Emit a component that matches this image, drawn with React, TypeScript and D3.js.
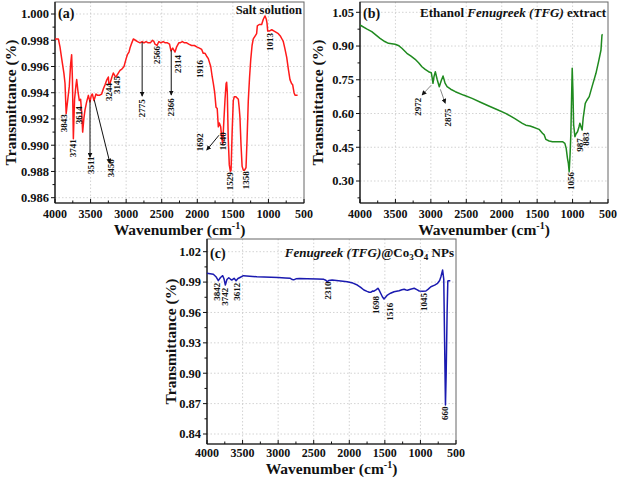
import React from "react";
import * as d3 from "d3";

// ---------- Data: panel (a) Salt solution ----------
const waveA = [4000,3953,3930,3906,3875,3859,3843,3820,3799,3780,3766,3755,3742,3725,3705,3695,3675,3658,3640,3625,3611,3595,3578,3555,3531,3508,3490,3475,3452,3424,3400,3377,3344,3320,3297,3270,3250,3244,3227,3200,3180,3160,3143,3110,3086,3060,3030,3000,2983,2960,2946,2920,2899,2870,2840,2805,2775,2750,2720,2690,2660,2630,2610,2594,2566,2540,2510,2480,2450,2420,2390,2370,2345,2313,2290,2260,2243,2210,2180,2149,2120,2080,2040,2008,1970,1938,1916,1891,1870,1845,1811,1790,1774,1755,1737,1720,1704,1690,1671,1655,1643,1625,1610,1595,1587,1578,1565,1550,1535,1525,1510,1494,1480,1460,1440,1423,1410,1400,1385,1370,1353,1335,1315,1300,1283,1265,1249,1230,1213,1190,1166,1156,1130,1095,1072,1048,1030,1020,1010,990,953,920,890,861,830,800,791,770,743,720,697,675,659,640,626,600,590];
const transA = [0.9981,0.9981,0.9975,0.9966,0.9955,0.9947,0.9924,0.9935,0.9945,0.9962,0.9969,0.995,0.9905,0.9935,0.9946,0.995,0.994,0.9934,0.9935,0.9925,0.991,0.992,0.9927,0.9933,0.9938,0.9933,0.9938,0.9939,0.9934,0.9939,0.9938,0.9938,0.9939,0.9943,0.9946,0.995,0.9952,0.9947,0.9947,0.9952,0.9955,0.9953,0.9952,0.9955,0.9957,0.9958,0.996,0.9966,0.9969,0.9971,0.9974,0.9978,0.9981,0.998,0.9979,0.9978,0.9979,0.9978,0.9979,0.9978,0.9978,0.998,0.9979,0.9977,0.9976,0.9979,0.9978,0.9979,0.9978,0.9978,0.9977,0.9972,0.9974,0.9971,0.9975,0.9978,0.9978,0.9979,0.9978,0.9978,0.9977,0.9976,0.9976,0.9975,0.9974,0.9973,0.997,0.997,0.9968,0.9966,0.996,0.9952,0.9947,0.994,0.9929,0.9928,0.9914,0.9917,0.9914,0.9905,0.9901,0.992,0.9935,0.9947,0.9948,0.994,0.9905,0.9885,0.988,0.9881,0.991,0.9934,0.9937,0.9937,0.9936,0.9935,0.9928,0.9921,0.99,0.9884,0.9881,0.9881,0.9883,0.9905,0.9934,0.9952,0.9965,0.9976,0.9981,0.9983,0.9985,0.9991,0.9992,0.9992,0.9996,0.99985,0.9996,0.9993,0.9987,0.9987,0.9988,0.9987,0.9986,0.9985,0.9983,0.998,0.9979,0.9974,0.9967,0.9958,0.995,0.9947,0.9946,0.994,0.9938,0.9938,0.9938];
const yTicksA = [0.986,0.988,0.99,0.992,0.994,0.996,0.998,1.0];
const labelsA = ["3843","3741","3614","3511","3456","3244","3145","2775","2566","2366","2314","1916","1692","1640","1529","1358","1013"];
const labelWaveA = [3873,3754,3663,3494,3213,3241,3128,2777,2566,2369,2271,1962,1962,1638,1540,1315,978];
const labelValA = [0.99168,0.98977,0.99229,0.98847,0.98824,0.99405,0.99458,0.99282,0.99687,0.9929,0.99618,0.9958,0.99023,0.99031,0.98725,0.98733,0.99786];
const arrowFromWaveA = [3508,3448,2775,2366,1695];
const arrowFromValA = [0.99344,0.99344,0.99786,0.99725,0.99076];
const arrowToWaveA = [3508,3227,2775,2366,1868];
const arrowToValA = [0.98908,0.98863,0.99374,0.99382,0.98962];

// ---------- Data: panel (b) Ethanol Fenugreek extract ----------
const waveB = [4000,3900,3834,3717,3650,3599,3504,3450,3409,3338,3280,3221,3170,3126,3080,3032,2994,2982,2970,2955,2937,2910,2881,2855,2828,2800,2771,2720,2654,2540,2418,2300,2182,2060,1945,1820,1709,1660,1600,1560,1473,1425,1400,1378,1330,1284,1200,1142,1109,1090,1072,1060,1048,1035,1024,1012,1005,995,985,967,950,930,910,897,880,865,850,821,800,765,720,670,630,599,585,575];
const transB = [0.9935,0.975,0.9637,0.9344,0.92,0.912,0.9077,0.901,0.89,0.8677,0.855,0.841,0.825,0.8081,0.796,0.7859,0.7814,0.76,0.7343,0.765,0.7859,0.75,0.7192,0.745,0.7668,0.735,0.7192,0.708,0.697,0.682,0.6674,0.65,0.6333,0.617,0.6009,0.578,0.5565,0.548,0.5445,0.54,0.5297,0.512,0.505,0.4853,0.478,0.4747,0.475,0.4747,0.4675,0.445,0.4008,0.38,0.3415,0.42,0.512,0.7,0.801,0.7,0.55,0.497,0.51,0.519,0.54,0.5565,0.54,0.5266,0.58,0.6454,0.658,0.6751,0.725,0.7788,0.835,0.8823,0.949,0.952];
const yTicksB = [0.3,0.45,0.6,0.75,0.9,1.05];
const labelsB = ["2972","2875","1056","987","883"];
const labelWaveB = [3178,2760,1031,893,818];
const labelValB = [0.6303,0.5822,0.2996,0.46,0.4866];
const arrowFromWaveB = [2994,2866];
const arrowFromValB = [0.7262,0.7076];
const arrowToWaveB = [3126,2796];
const arrowToValB = [0.6817,0.6454];

// ---------- Data: panel (c) Fenugreek (TFG)@Co3O4 NPs ----------
const waveC = [4000,3911,3870,3841,3810,3779,3760,3742,3720,3694,3672,3652,3619,3591,3565,3543,3488,3400,3299,3200,3100,3000,2900,2829,2800,2782,2750,2700,2593,2450,2358,2330,2311,2290,2241,2150,2029,1950,1887,1840,1794,1750,1720,1700,1670,1653,1620,1597,1580,1559,1535,1512,1490,1464,1420,1371,1300,1260,1229,1200,1182,1140,1088,1050,1017,970,923,890,853,800,759,730,712,688,672,660,648,638,625,615,600,580];
const transC = [0.9987,0.9977,0.995,0.9914,0.9945,0.9963,0.993,0.9871,0.9925,0.9943,0.993,0.992,0.9937,0.9914,0.9935,0.9943,0.9963,0.9958,0.9953,0.995,0.9947,0.9945,0.994,0.9937,0.9925,0.9922,0.9932,0.9935,0.9933,0.993,0.9927,0.9918,0.9904,0.9915,0.992,0.9914,0.9904,0.989,0.9871,0.9848,0.9822,0.9808,0.98,0.9799,0.9812,0.981,0.9825,0.9839,0.982,0.979,0.9755,0.9733,0.975,0.9772,0.979,0.9805,0.9815,0.9825,0.9829,0.9822,0.9819,0.983,0.9839,0.9825,0.9812,0.981,0.9812,0.983,0.9854,0.987,0.9888,0.9915,0.9953,1.0019,0.993,0.93,0.8686,0.9,0.96,0.9911,0.9914,0.9914];
const yTicksC = [0.84,0.87,0.9,0.93,0.96,0.99,1.02];
const labelsC = ["3842","3742","3612","2310","1698","1516","1045","660"];
const labelWaveC = [3863,3746,3581,2307,1622,1434,952,653];
const labelValC = [0.9805,0.9756,0.9805,0.9817,0.9674,0.9608,0.9703,0.8604];

const xTicks = [4000,3500,3000,2500,2000,1500,1000,500];
const xMinor = [3750,3250,2750,2250,1750,1250,750];

const FONT = "'Liberation Serif','Times New Roman',serif";

type Ann = { text: string; w: number; v: number };
type Arr = { w1: number; v1: number; w2: number; v2: number };

type PanelProps = {
  id: string;
  xr: [number, number];
  yDom: [number, number];
  yRange: [number, number];
  top: number;
  bottom: number;
  wave: number[];
  trans: number[];
  color: string;
  yTicks: number[];
  fmt: string;
  anns: Ann[];
  arrows: Arr[];
  arrowColor: string;
  tag: string;
  tickLabelDy: number;
  xTitleY: number;
  yTitleX: number;
  title: React.ReactNode;
  titleY: number;
  titleSize: number;
  tagY: number;
};

function Panel(p: PanelProps) {
  const x = d3.scaleLinear().domain([4000, 500]).range(p.xr);
  const y = d3.scaleLinear().domain(p.yDom).range(p.yRange);
  const pts: [number, number][] = p.wave.map((w, i) => [w, p.trans[i]]);
  const line = d3
    .line<[number, number]>()
    .x((d) => x(d[0]))
    .y((d) => y(d[1]));
  const left = p.xr[0];
  const right = p.xr[1];
  const step = p.yTicks[1] - p.yTicks[0];
  const yMinor: number[] = [];
  p.yTicks.forEach((t) => {
    const m = t + step / 2;
    if (y(m) > p.top) yMinor.push(m);
  });
  const lo = p.yTicks[0] - step / 2;
  if (y(lo) < p.bottom) yMinor.push(lo);
  const f = d3.format(p.fmt);
  const markerId = "arrow-" + p.id;
  return (
    <g>
      <defs>
        <marker id={markerId} viewBox="0 0 10 10" refX="9" refY="5" markerWidth="5" markerHeight="5" orient="auto-start-reverse">
          <path d="M0,0 L10,5 L0,10 z" fill="#111" />
        </marker>
      </defs>
      {/* grid */}
      {xTicks.slice(1, -1).map((t) => (
        <line key={"gx" + t} x1={x(t)} x2={x(t)} y1={p.top} y2={p.bottom} stroke="#c8c8c8" strokeWidth={0.8} strokeDasharray="1.5,2" />
      ))}
      {p.yTicks.map((t) => (
        <line key={"gy" + t} x1={left} x2={right} y1={y(t)} y2={y(t)} stroke="#c8c8c8" strokeWidth={0.8} strokeDasharray="1.5,2" />
      ))}
      {/* frame */}
      <rect x={left} y={p.top} width={right - left} height={p.bottom - p.top} fill="none" stroke="#666" strokeWidth={1} />
      <line x1={left} x2={left} y1={p.top} y2={p.bottom} stroke="#111" strokeWidth={1.2} />
      <line x1={left} x2={right} y1={p.bottom} y2={p.bottom} stroke="#111" strokeWidth={1.2} />
      {/* x ticks */}
      {xTicks.map((t) => (
        <g key={"xt" + t}>
          <line x1={x(t)} x2={x(t)} y1={p.bottom} y2={p.bottom - 4} stroke="#111" strokeWidth={1} />
          <text x={x(t)} y={p.bottom + p.tickLabelDy} textAnchor="middle" fontFamily={FONT} fontWeight="bold" fontSize={12} fill="#111">
            {t}
          </text>
        </g>
      ))}
      {xMinor.map((t) => (
        <line key={"xm" + t} x1={x(t)} x2={x(t)} y1={p.bottom} y2={p.bottom - 2.5} stroke="#111" strokeWidth={1} />
      ))}
      {/* y ticks */}
      {p.yTicks.map((t) => (
        <g key={"yt" + t}>
          <line x1={left - 4} x2={left} y1={y(t)} y2={y(t)} stroke="#111" strokeWidth={1} />
          <text x={left - 6} y={y(t)} dy="0.35em" textAnchor="end" fontFamily={FONT} fontWeight="bold" fontSize={12.5} fill="#111">
            {f(t)}
          </text>
        </g>
      ))}
      {yMinor.map((t) => (
        <line key={"ym" + t} x1={left - 2.5} x2={left} y1={y(t)} y2={y(t)} stroke="#111" strokeWidth={1} />
      ))}
      {/* curve */}
      <path d={line(pts) || ""} fill="none" stroke={p.color} strokeWidth={1.5} strokeLinejoin="round" />
      {/* arrows */}
      {p.arrows.map((a, i) => (
        <line key={"ar" + i} x1={x(a.w1)} y1={y(a.v1)} x2={x(a.w2)} y2={y(a.v2)} stroke={p.arrowColor} strokeWidth={1} markerEnd={`url(#${markerId})`} />
      ))}
      {/* annotations */}
      {p.anns.map((a, i) => (
        <text key={"an" + i} transform={`translate(${x(a.w)},${y(a.v)}) rotate(-90)`} textAnchor="middle" dy="0.35em" fontFamily={FONT} fontWeight="bold" fontSize={9} fill="#111">
          {a.text}
        </text>
      ))}
      {/* panel tag */}
      <text x={left + 3} y={p.tagY} fontFamily={FONT} fontWeight="bold" fontSize={14} fill="#111">
        {p.tag}
      </text>
      {/* title */}
      <text x={right - 2} y={p.titleY} textAnchor="end" fontFamily={FONT} fontWeight="bold" fontSize={p.titleSize} fill="#111">
        {p.title}
      </text>
      {/* axis titles */}
      <text x={(left + right) / 2} y={p.xTitleY} textAnchor="middle" fontFamily={FONT} fontWeight="bold" fontSize={15.5} fill="#111">
        Wavenumber (cm
        <tspan fontSize={10} dy={-6}>-1</tspan>
        <tspan dy={6}>)</tspan>
      </text>
      <text transform={`translate(${p.yTitleX},${(p.top + p.bottom) / 2}) rotate(-90)`} textAnchor="middle" dy="0.35em" fontFamily={FONT} fontWeight="bold" fontSize={15.5} fill="#111">
        Transmittance (%)
      </text>
    </g>
  );
}

function mkAnns(labels: string[], ws: number[], vs: number[]): Ann[] {
  return labels.map((t, i) => ({ text: t, w: ws[i], v: vs[i] }));
}
function mkArrows(w1: number[], v1: number[], w2: number[], v2: number[]): Arr[] {
  return w1.map((w, i) => ({ w1: w, v1: v1[i], w2: w2[i], v2: v2[i] }));
}

export default function App() {
  return (
    <svg width={620} height={480} style={{ position: "absolute", left: 0, top: 0, background: "#fff" }}>
      <rect x={0} y={0} width={620} height={480} fill="#fff" />
      <Panel
        id="a"
        xr={[55, 304]}
        yDom={[0.986, 1.0]}
        yRange={[197.7, 14]}
        top={2}
        bottom={203}
        wave={waveA}
        trans={transA}
        color="#ff1a1a"
        yTicks={yTicksA}
        fmt=".3f"
        anns={mkAnns(labelsA, labelWaveA, labelValA)}
        arrows={mkArrows(arrowFromWaveA, arrowFromValA, arrowToWaveA, arrowToValA)}
        arrowColor="#111"
        tag="(a)"
        tagY={18}
        tickLabelDy={15}
        xTitleY={235}
        yTitleX={11}
        title={<tspan>Salt solution</tspan>}
        titleY={14}
        titleSize={12.5}
      />
      <Panel
        id="b"
        xr={[360, 608]}
        yDom={[0.3, 1.05]}
        yRange={[181, 12.3]}
        top={2}
        bottom={203}
        wave={waveB}
        trans={transB}
        color="#1f8a1f"
        yTicks={yTicksB}
        fmt=".2f"
        anns={mkAnns(labelsB, labelWaveB, labelValB)}
        arrows={mkArrows(arrowFromWaveB, arrowFromValB, arrowToWaveB, arrowToValB)}
        arrowColor="#888"
        tag="(b)"
        tagY={18}
        tickLabelDy={15}
        xTitleY={235}
        yTitleX={318}
        title={
          <>
            <tspan>Ethanol </tspan>
            <tspan fontStyle="italic">Fenugreek (TFG)</tspan>
            <tspan> extract</tspan>
          </>
        }
        titleY={17}
        titleSize={13}
      />
      <Panel
        id="c"
        xr={[207, 456]}
        yDom={[0.84, 1.02]}
        yRange={[434, 251.7]}
        top={239}
        bottom={444}
        wave={waveC}
        trans={transC}
        color="#1a1ab0"
        yTicks={yTicksC}
        fmt=".2f"
        anns={mkAnns(labelsC, labelWaveC, labelValC)}
        arrows={[]}
        arrowColor="#111"
        tag="(c)"
        tagY={258}
        tickLabelDy={13}
        xTitleY={474}
        yTitleX={171}
        title={
          <>
            <tspan fontStyle="italic">Fenugreek (TFG)</tspan>
            <tspan>@Co</tspan>
            <tspan fontSize={9} dy={3}>3</tspan>
            <tspan dy={-3}>O</tspan>
            <tspan fontSize={9} dy={3}>4</tspan>
            <tspan dy={-3}> NPs</tspan>
          </>
        }
        titleY={257}
        titleSize={13}
      />
    </svg>
  );
}
